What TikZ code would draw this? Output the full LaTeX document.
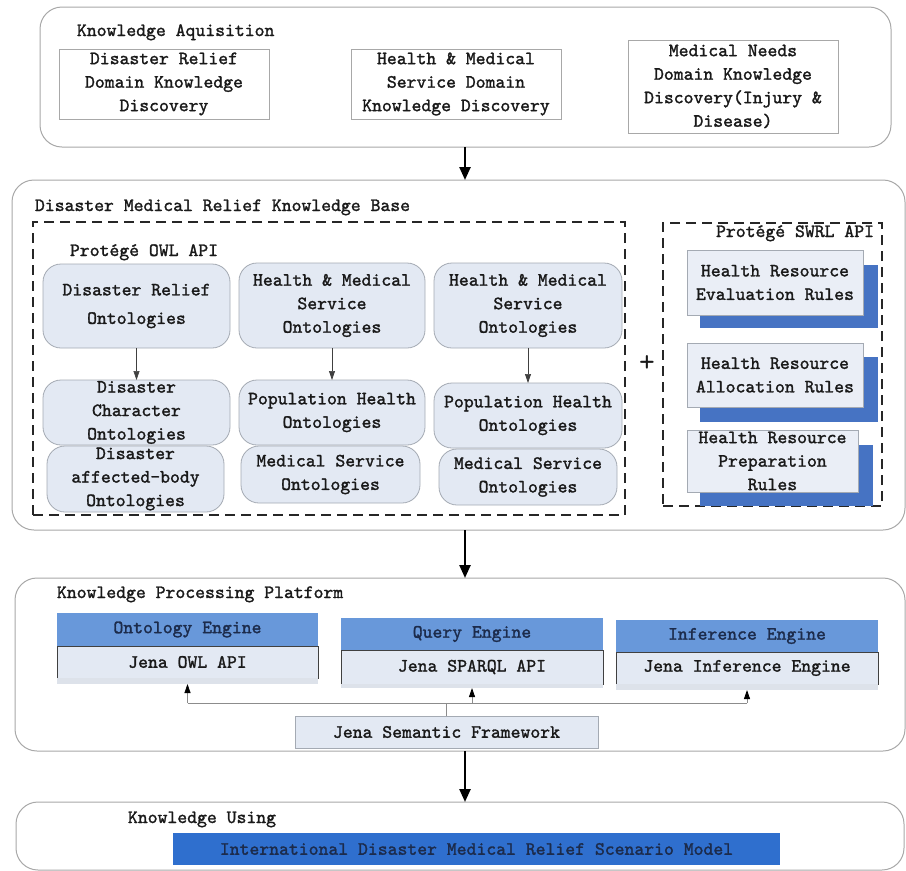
\documentclass[tikz,border=0pt]{standalone}
\usepackage{fontspec}
\newfontfamily\diagfont{lmmono10-regular}[Extension=.otf,FakeBold=1.5]
\newfontfamily\thinfont{lmmono10-regular}[Extension=.otf]
\usetikzlibrary{arrows.meta}

\definecolor{panelline}{HTML}{A8A8A8}
\definecolor{ontfill}{HTML}{E3E9F3}
\definecolor{ontline}{HTML}{A4AAB3}
\definecolor{hdrblue}{HTML}{6898DA}
\definecolor{modelblue}{HTML}{2F6FCE}
\definecolor{shadowblue}{HTML}{4673C3}
\definecolor{navy}{HTML}{1C2B4B}
\definecolor{stripfill}{HTML}{DDE2EA}

\tikzset{
  every node/.style={font=\diagfont\fontsize{18.8}{23.5}\selectfont,
    inner sep=0pt, outer sep=0pt, text=black!90},
  panel/.style={draw=panelline, line width=1pt, rounded corners=22pt},
  srcbox/.style={draw=panelline, fill=white, line width=0.8pt, align=center},
  ont/.style={draw=ontline, fill=ontfill, rounded corners=18pt,
    line width=0.8pt, align=center},
  apibox/.style={draw=black!85, line width=1.4pt, dash pattern=on 10pt off 6pt},
  rulebox/.style={draw=ontline, fill=ontfill!75!white, align=center, line width=0.8pt},
  ruleshadow/.style={fill=shadowblue},
  hdr/.style={fill=hdrblue, text=navy},
  engbody/.style={fill=ontfill, draw=black!75, line width=1pt},
  strip/.style={fill=stripfill},
  heading/.style={anchor=base west},
  bigarrow/.style={-{Triangle[width=11pt,length=13pt]}, line width=2.4pt},
  smallarrow/.style={-{Triangle[width=6pt,length=9pt]}, line width=0.7pt, draw=black!75},
  busline/.style={line width=0.8pt, draw=black!45},
  busarrow/.style={line width=0.8pt, draw=black!45,
    arrows={-{Triangle[width=6pt,length=9pt,fill=black,color=black]}}},
}

\begin{document}
\begin{tikzpicture}[x=1pt,y=-1pt]
\useasboundingbox (0,0) rectangle (906,871);

% ---------- Knowledge acquisition ----------
\node[panel, minimum width=851pt, minimum height=140pt] (p1) at (465.5,77) {};
\node[heading] (t1) at (77,36) {Knowledge Aquisition};
\node[srcbox, minimum width=210pt, minimum height=70pt] (ka1) at (164,84)
  {Disaster Relief\\Domain Knowledge\\Discovery};
\node[srcbox, minimum width=210pt, minimum height=70pt] (ka2) at (456,84)
  {Health \& Medical\\Service Domain\\Knowledge Discovery};
\node[srcbox, minimum width=210pt, minimum height=93pt] (ka3) at (733,86.5)
  {Medical Needs\\Domain Knowledge\\Discovery(Injury \&\\Disease)};

% ---------- Knowledge base ----------
\node[panel, minimum width=893pt, minimum height=350pt] (p2) at (458.5,355) {};
\node[heading] (t2) at (35,211) {Disaster Medical Relief Knowledge Base};

\node[apibox, minimum width=592pt, minimum height=293pt] (owl) at (329,368.5) {};
\node[heading] (t3) at (70,256) {Protégé OWL API};

\node[ont, minimum width=187pt, minimum height=84pt] (o11) at (136.5,306)
  {Disaster Relief\\[5pt]Ontologies};
\node[ont, minimum width=187pt, minimum height=65pt] (o12) at (136.5,412.5)
  {Disaster\\Character\\Ontologies};
\node[ont, minimum width=177pt, minimum height=66pt] (o13) at (135.5,479)
  {Disaster\\affected-body\\Ontologies};

\node[ont, minimum width=186pt, minimum height=85pt] (o21) at (332,305.5)
  {Health \& Medical\\Service\\Ontologies};
\node[ont, minimum width=186pt, minimum height=65pt] (o22) at (332,412.5)
  {Population Health\\Ontologies};
\node[ont, minimum width=179pt, minimum height=57pt] (o23) at (330.5,474.5)
  {Medical Service\\Ontologies};

\node[ont, minimum width=188pt, minimum height=85pt] (o31) at (528,305.5)
  {Health \& Medical\\Service\\Ontologies};
\node[ont, minimum width=188pt, minimum height=65pt] (o32) at (528,415.5)
  {Population Health\\Ontologies};
\node[ont, minimum width=178pt, minimum height=56pt] (o33) at (528,477)
  {Medical Service\\Ontologies};

\draw[smallarrow] (o11.south) -- (o12.north);
\draw[smallarrow] (o21.south) -- (o22.north);
\draw[smallarrow] (o31.south) -- (o32.north);

\node[font=\thinfont\fontsize{30}{30}\selectfont] (plus) at (647,364) {+};

\node[apibox, minimum width=219pt, minimum height=283pt] (swrl) at (772.5,364.5) {};
\node[anchor=base east] (t4) at (874,237) {Protégé SWRL API};

\node[ruleshadow, minimum width=178pt, minimum height=63pt] (r1s) at (789,296.5) {};
\node[rulebox, minimum width=176pt, minimum height=65pt] (r1) at (775,282.5)
  {Health Resource\\Evaluation Rules};
\node[ruleshadow, minimum width=178pt, minimum height=65pt] (r2s) at (789,389.5) {};
\node[rulebox, minimum width=176pt, minimum height=64pt] (r2) at (775,375)
  {Health Resource\\Allocation Rules};
\node[ruleshadow, minimum width=173pt, minimum height=61pt] (r3s) at (786.5,475.5) {};
\node[rulebox, minimum width=171pt, minimum height=62pt] (r3) at (772.5,461)
  {Health Resource\\Preparation\\Rules};

% ---------- Processing platform ----------
\node[panel, minimum width=890pt, minimum height=173pt] (p3) at (460,664.5) {};
\node[heading] (t5) at (57,598) {Knowledge Processing Platform};

\node[hdr, minimum width=261pt, minimum height=33pt] (e1h) at (187.5,629.5) {Ontology Engine};
\node[engbody, minimum width=261pt, minimum height=32pt] (e1b) at (187.5,662) {Jena OWL API};
\node[strip, minimum width=261pt, minimum height=6pt] (e1s) at (187.5,681) {};

\node[hdr, minimum width=262pt, minimum height=32pt] (e2h) at (472,634) {Query Engine};
\node[engbody, minimum width=262pt, minimum height=34pt] (e2b) at (472,667) {Jena SPARQL API};
\node[strip, minimum width=262pt, minimum height=4pt] (e2s) at (472,686) {};

\node[hdr, minimum width=262pt, minimum height=32pt] (e3h) at (747,636) {Inference Engine};
\node[engbody, minimum width=262pt, minimum height=32pt] (e3b) at (747,668) {Jena Inference Engine};
\node[strip, minimum width=262pt, minimum height=6pt] (e3s) at (747,687) {};

\node[fill=ontfill, draw=ontline, line width=0.8pt, minimum width=303pt, minimum height=32pt]
  (jsf) at (446.5,732) {Jena Semantic Framework};

\coordinate (bus) at (447,703);
\draw[busline] (jsf.north) -- (jsf.north |- bus);
\draw[busline] (e1s.south |- bus) -- (e3s.south |- bus);
\draw[busarrow] (e1s.south |- bus) -- (e1s.south);
\draw[busarrow] (e2s.south |- bus) -- (e2s.south);
\draw[busarrow] (e3s.south |- bus) -- (e3s.south);

% ---------- Knowledge using ----------
\node[panel, minimum width=888pt, minimum height=68pt] (p4) at (460,836) {};
\node[heading] (t6) at (128,823) {Knowledge Using};
\node[fill=modelblue, text=navy, minimum width=607pt, minimum height=32pt] (model)
  at (476.5,849) {International Disaster Medical Relief Scenario Model};

% ---------- Flow between layers ----------
\coordinate (axis) at (465,0);
\draw[bigarrow] (p1.south -| axis) -- (p2.north -| axis);
\draw[bigarrow] (p2.south -| axis) -- (p3.north -| axis);
\draw[bigarrow] (p3.south -| axis) -- (p4.north -| axis);
\end{tikzpicture}
\end{document}
